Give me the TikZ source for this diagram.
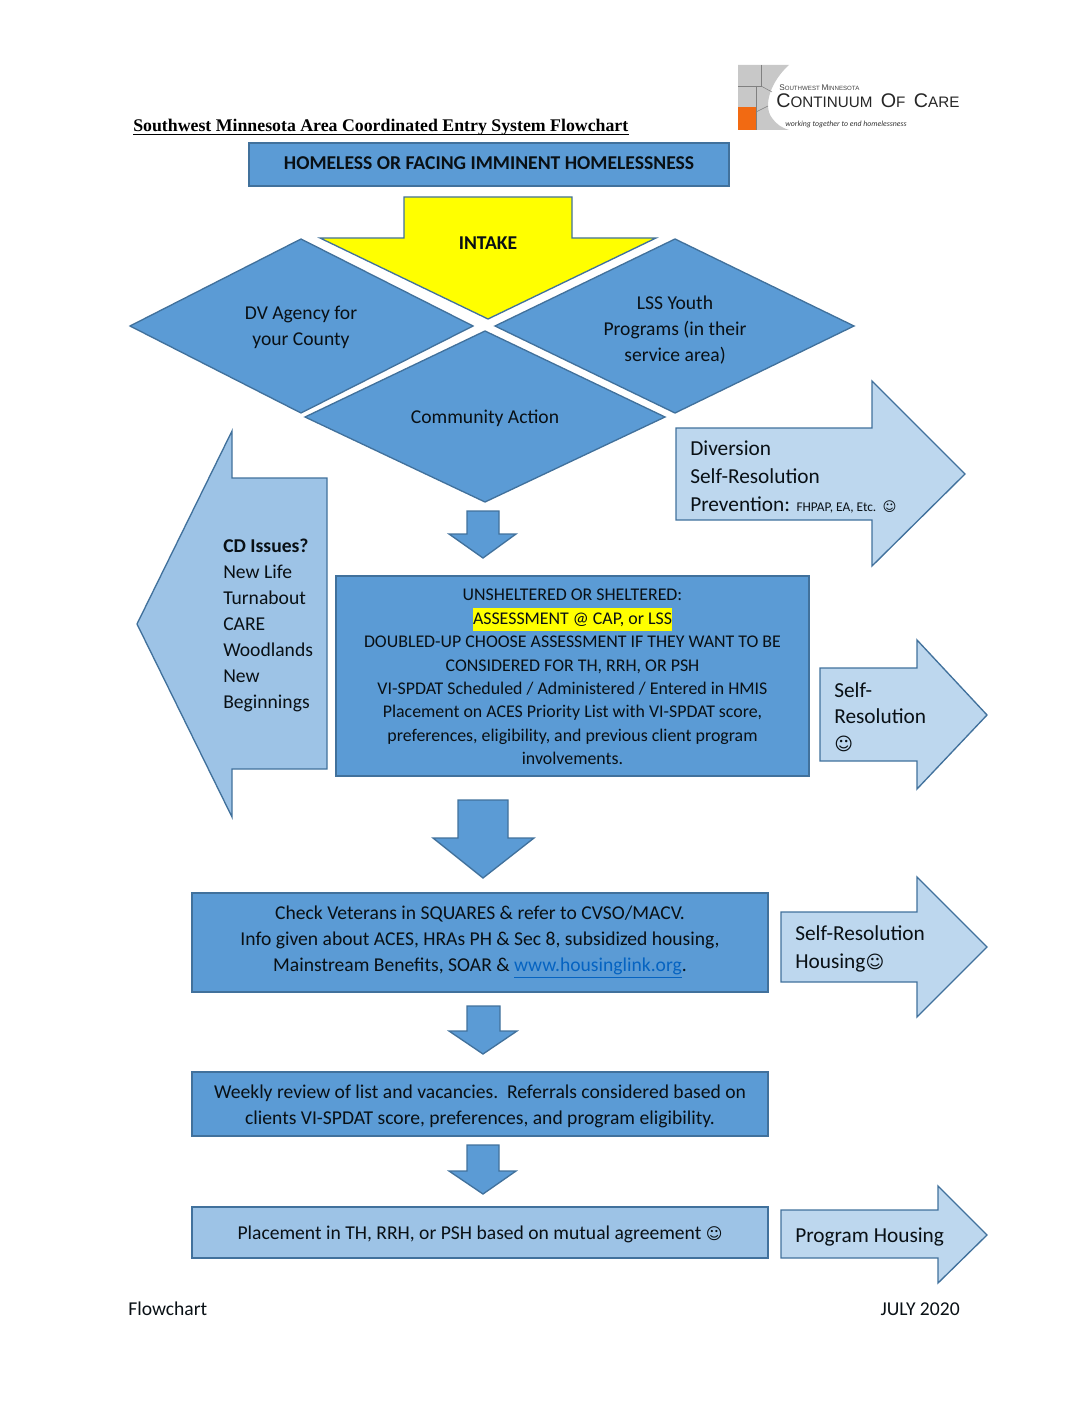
\documentclass[tikz,border=0pt]{standalone}
\usepackage{fontspec}
\setmainfont{Carlito}
\newfontfamily\titlefont{Liberation Serif}
\newfontfamily\logofont{Liberation Sans}
\newfontfamily\symfont{DejaVu Sans}
\definecolor{midblue}{HTML}{5B9BD5}
\definecolor{edgeblue}{HTML}{41719C}
\definecolor{paleblue}{HTML}{BDD7EE}
\definecolor{softblue}{HTML}{9DC3E6}
\definecolor{linkblue}{HTML}{0563C1}
\definecolor{logogrey}{HTML}{C8C8C8}
\definecolor{logoorange}{HTML}{F26A12}
\definecolor{markyellow}{HTML}{FFFF00}
\newcommand{\smileyface}[1]{{\symfont\fontsize{#1}{#1}\selectfont\char"263A}}
\newcommand{\logocap}[1]{{\fontsize{14.8}{15}\selectfont #1}}
\newcommand{\logosmall}[1]{{\fontsize{6.2}{7}\selectfont #1}}
\tikzset{
    shapemid/.style={draw=edgeblue,fill=midblue,line width=1pt},
    shapepale/.style={draw=edgeblue,fill=paleblue,line width=1pt},
    shapesoft/.style={draw=edgeblue,fill=softblue,line width=1pt},
    txt/.style={inner sep=0pt,align=center,text=black!90!midblue,font=\fontsize{14.7}{19.5}\selectfont},
    txtbold/.style={txt,font=\bfseries\fontsize{14.7}{19.5}\selectfont},
    txtleft/.style={txt,align=left,anchor=west},
    bigleft/.style={txtleft,font=\fontsize{16}{21}\selectfont}
}
\begin{document}
\begin{tikzpicture}[x=0.75pt,y=-0.75pt]
    \useasboundingbox (0,0) rectangle (1088,1408);
    \fill [logogrey] (738,65)--(789,65) .. controls (772,80) and (762,105) .. (772,118) .. controls (776,124) and (782,128) .. (789,130)--(738,130)--cycle;
    \draw [gray,line width=0.4pt] (761,65)--(761,86)--(738,86);
    \draw [gray,line width=0.4pt] (761,86)--(772,92);
    \draw [gray,line width=0.4pt] (756,86)--(756,130);
    \draw [gray,line width=0.4pt] (756,112)--(768,106);
    \fill [logoorange] (738,107) rectangle (756,130);
    \node (logotop) [inner sep=0pt,anchor=west,text=black!75,font=\logofont\fontsize{4.6}{5}\selectfont] at (779,88) {\logosmall{S}OUTHWEST \logosmall{M}INNESOTA};
    \node (logomain) [inner sep=0pt,anchor=west,text=black!85,font=\logofont\fontsize{11.4}{12}\selectfont] at (776,101) {\logocap{C}ONTINUUM\ \ \logocap{O}F\ \ \logocap{C}ARE};
    \node (logotag) [inner sep=0pt,anchor=west,text=black!80,font=\itshape\fontsize{5.85}{6}\selectfont] at (785,124) {working together to end homelessness};

    \node (title) [inner sep=0pt,anchor=base west,font=\titlefont\bfseries\fontsize{13.35}{15}\selectfont] at (133,132) {Southwest Minnesota Area Coordinated Entry System Flowchart};
    \draw [line width=0.9pt] ([yshift=-2pt]title.base west)--([yshift=-2pt]title.base east);

    \draw [shapemid] (249,143) rectangle (729,186);
    \node (homeless) [txtbold] at (489,163) {HOMELESS OR FACING IMMINENT HOMELESSNESS};

    \draw [edgeblue,fill=markyellow,line width=1pt] (404,197)--(572,197)--(572,238)--(656,238)--(488,319)--(320,238)--(404,238)--cycle;
    \node (intake) [txtbold] at (488,243) {INTAKE};

    \draw [shapemid] (130,326)--(301,239)--(473,326)--(301,413)--cycle;
    \node (dvagency) [txt] at (301,327) {DV Agency for\\your County};
    \draw [shapemid] (495,326)--(675,239)--(854,326)--(675,413)--cycle;
    \node (lssyouth) [txt] at (675,330) {LSS Youth\\Programs (in their\\service area)};
    \draw [shapemid] (305,417)--(485,331)--(665,417)--(485,502)--cycle;
    \node (community) [txt] at (485,418) {Community Action};

    \draw [shapepale] (676,428)--(872,428)--(872,381)--(965,474)--(872,566)--(872,520)--(676,520)--cycle;
    \node (diversion) [bigleft] at (690,477) {Diversion\\Self-Resolution\\Prevention: {\fontsize{10}{10}\selectfont FHPAP, EA, Etc.} \smileyface{10}};

    \draw [shapesoft] (327,478)--(232,478)--(232,431)--(137,624)--(232,817)--(232,769)--(327,769)--cycle;
    \node (cdissues) [txtleft] at (223,625) {\textbf{CD Issues?}\\New Life\\Turnabout\\CARE\\Woodlands\\New\\Beginnings};

    \draw [shapemid] (467,511)--(499,511)--(499,534)--(516,534)--(483,558)--(449,534)--(467,534)--cycle;

    \draw [shapemid] (336,576) rectangle (809,776);
    \node (assess) [txt,font=\fontsize{13.4}{17.6}\selectfont] at (572.5,677) {UNSHELTERED OR SHELTERED:\\
        {\setlength{\fboxsep}{0pt}\colorbox{markyellow}{\strut ASSESSMENT @ CAP, or LSS}}\\
        DOUBLED-UP CHOOSE ASSESSMENT IF THEY WANT TO BE\\
        CONSIDERED FOR TH, RRH, OR PSH\\
        VI-SPDAT Scheduled / Administered / Entered in HMIS\\
        Placement on ACES Priority List with VI-SPDAT score,\\
        preferences, eligibility, and previous client program\\
        involvements.};

    \draw [shapepale] (820,668)--(917,668)--(917,640)--(987,715)--(917,789)--(917,761)--(820,761)--cycle;
    \node (selfres) [bigleft,font=\fontsize{16}{20}\selectfont] at (834,717) {Self-\\Resolution\\\smileyface{13.5}};

    \draw [shapemid] (458,800)--(508,800)--(508,838)--(534,838)--(483,878)--(433,838)--(458,838)--cycle;

    \draw [shapemid] (192,893) rectangle (768,992);
    \node (veterans) [txt] at (480,942) {Check Veterans in SQUARES \& refer to CVSO/MACV.\\
        Info given about ACES, HRAs PH \& Sec 8, subsidized housing,\\
        Mainstream Benefits, SOAR \& \textcolor{linkblue}{\underline{www.housinglink.org}}.};

    \draw [shapepale] (781,912)--(917,912)--(917,877)--(987,947)--(917,1017)--(917,982)--(781,982)--cycle;
    \node (selfhousing) [bigleft] at (795,949) {Self-Resolution\\Housing\smileyface{13.5}};

    \draw [shapemid] (467,1006)--(500,1006)--(500,1031)--(517,1031)--(483,1054)--(449,1031)--(467,1031)--cycle;

    \draw [shapemid] (192,1072) rectangle (768,1136);
    \node (weekly) [txt] at (480,1106) {Weekly review of list and vacancies.\ \ Referrals considered based on\\
        clients VI-SPDAT score, preferences, and program eligibility.};

    \draw [shapemid] (467,1145)--(499,1145)--(499,1171)--(516,1171)--(483,1194)--(449,1171)--(467,1171)--cycle;

    \draw [shapesoft] (192,1207) rectangle (768,1258);
    \node (placement) [txt] at (480,1234) {Placement in TH, RRH, or PSH based on mutual agreement \smileyface{12}};

    \draw [shapepale] (781,1210)--(938,1210)--(938,1186)--(987,1235)--(938,1283)--(938,1258)--(781,1258)--cycle;
    \node (programhousing) [bigleft] at (795,1237) {Program Housing};

    \node (footleft) [txtleft] at (128,1309) {Flowchart};
    \node (footright) [txt,anchor=east] at (960,1309) {JULY 2020};
  \end{tikzpicture}
\end{document}
